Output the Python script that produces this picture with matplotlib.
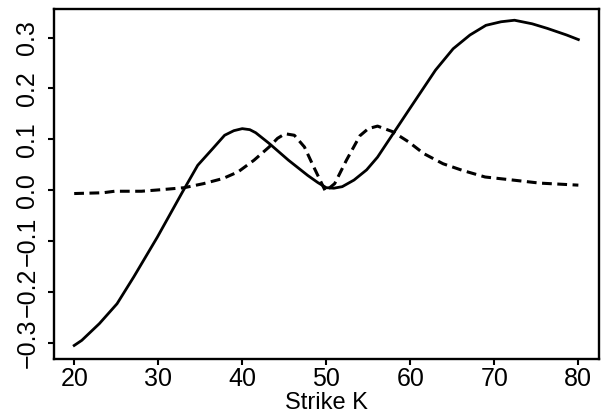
import matplotlib
matplotlib.use("Agg")
import matplotlib.pyplot as plt

# solid curve
strike_solid = [20.0, 20.9, 23.0, 25.1, 27.1, 29.9, 32.9, 34.7, 36.5, 37.9, 39.0, 40.0,
                40.9, 41.6, 43.2, 45.5, 47.8, 49.0, 50.0, 50.9, 51.9, 53.3, 54.8,
                56.1, 59.8, 63.0, 65.1, 67.1, 69.0, 70.8, 72.4, 74.5, 76.3, 78.6, 80.0]
value_solid = [-0.305, -0.295, -0.262, -0.223, -0.170, -0.092, -0.003, 0.049, 0.082,
               0.108, 0.117, 0.121, 0.119, 0.113, 0.092, 0.059, 0.029, 0.015, 0.005,
               0.004, 0.007, 0.020, 0.040, 0.065, 0.157, 0.236, 0.278, 0.305, 0.324,
               0.331, 0.334, 0.327, 0.318, 0.305, 0.296]

# dashed curve
strike_dashed = [20.0, 23.4, 24.8, 28.0, 30.3, 33.1, 35.4, 37.7, 39.5, 41.4, 43.2, 44.2,
                 45.1, 46.2, 47.4, 48.5, 49.9, 51.0, 52.4, 54.0, 55.0, 56.1, 57.9,
                 59.8, 61.6, 63.9, 66.2, 68.9, 72.2, 75.4, 80.0]
value_dashed = [-0.0065, -0.005, -0.002, -0.002, 0.001, 0.005, 0.013, 0.023, 0.036,
                0.059, 0.085, 0.102, 0.111, 0.108, 0.085, 0.046, -0.002, 0.013, 0.059,
                0.107, 0.121, 0.126, 0.115, 0.095, 0.072, 0.052, 0.039, 0.026, 0.020,
                0.014, 0.010]

x_ticks = [20, 30, 40, 50, 60, 70, 80]
y_ticks = [-0.3, -0.2, -0.1, 0.0, 0.1, 0.2, 0.3]
y_labels = ["\u22120.3", "\u22120.2", "\u22120.1", "0.0", "0.1", "0.2", "0.3"]

plt.rcParams["font.family"] = ["Liberation Sans", "DejaVu Sans"]

fig = plt.figure(figsize=(6.05, 4.16), dpi=100)
ax = fig.add_axes([0.0893, 0.137, 0.900, 0.8425])

ax.plot(strike_solid, value_solid, color="black", lw=2.0)
ax.plot(strike_dashed, value_dashed, color="black", lw=2.2, dashes=(3.2, 1.8))

ax.set_xlim(17.6, 82.4)
ax.set_ylim(-0.3316, 0.357)
ax.set_xticks(x_ticks)
ax.set_yticks(y_ticks)
ax.set_yticklabels(y_labels, rotation=90, va="center")
ax.tick_params(axis="both", labelsize=18, length=4.5, width=1.5)
ax.tick_params(axis="x", pad=1.5)
ax.tick_params(axis="y", pad=6)
ax.set_xlabel("Strike K", fontsize=17, labelpad=0.5)
for s in ax.spines.values():
    s.set_linewidth(1.7)

fig.savefig("out.png", dpi=100)
